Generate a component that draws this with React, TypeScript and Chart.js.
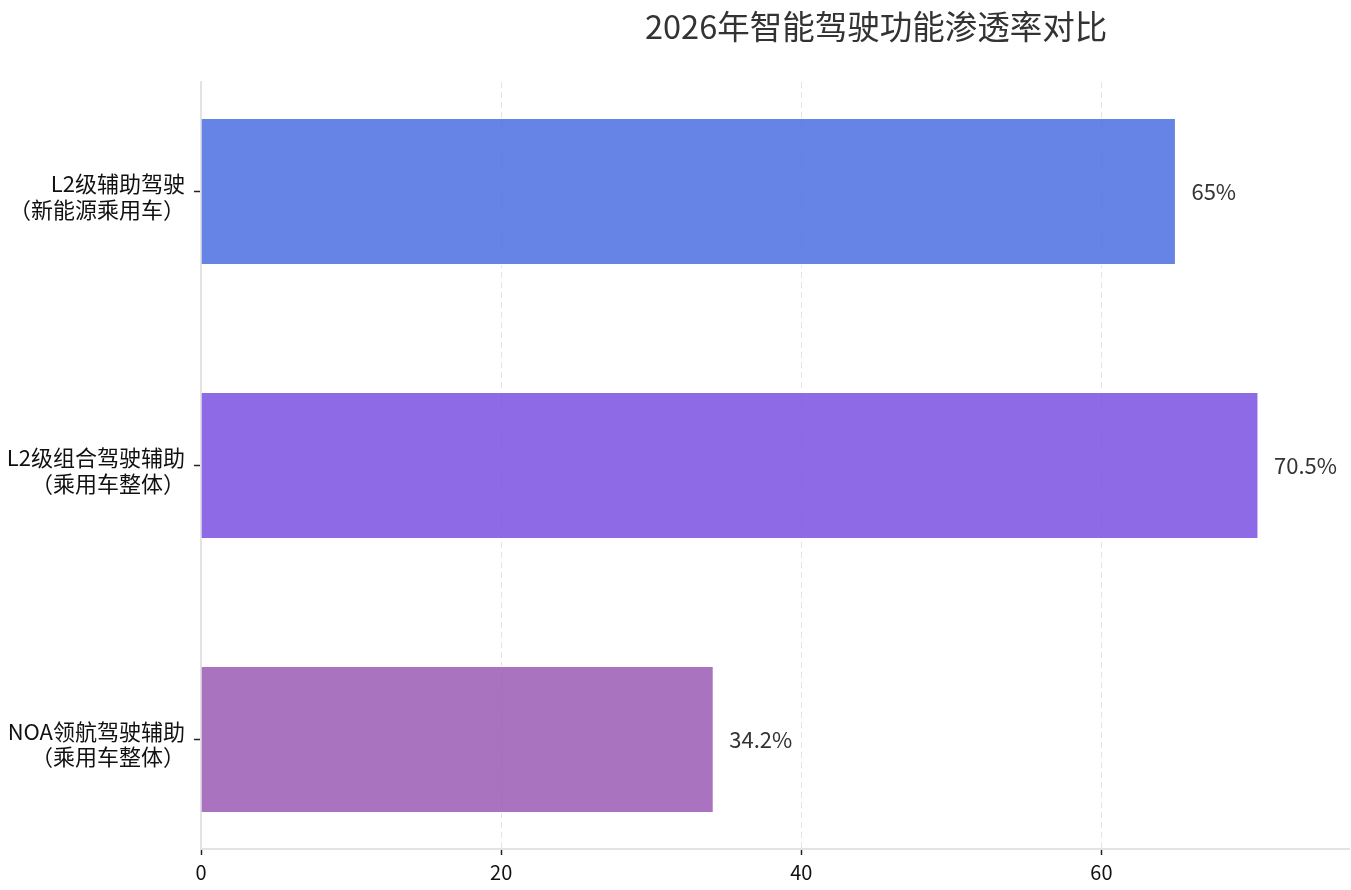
import React, { useEffect, useRef } from "react";
import { Chart, registerables } from "chart.js";

Chart.register(...registerables);

const TITLE = "2026年智能驾驶功能渗透率对比";
const categories: string[][] = [
  ["L2级辅助驾驶", "（新能源乘用车）"],
  ["L2级组合驾驶辅助", "（乘用车整体）"],
  ["NOA领航驾驶辅助", "（乘用车整体）"],
];
const rates = [65, 70.5, 34.2];
const barColors = [
  "rgba(75, 110, 226, 0.85)",
  "rgba(123, 80, 226, 0.85)",
  "rgba(155, 90, 181, 0.85)",
];
const xTicks = [0, 20, 40, 60];

const FONT = "'Noto Sans CJK SC', 'Noto Sans', sans-serif";

// value labels to the right of each bar
const valueLabels = {
  id: "valueLabels",
  afterDatasetsDraw(chart: any) {
    const ctx = chart.ctx;
    const xScale = chart.scales.x;
    const gap = xScale.getPixelForValue(1) - xScale.getPixelForValue(0);
    const meta = chart.getDatasetMeta(0);
    ctx.save();
    ctx.font = `22px ${FONT}`;
    ctx.fillStyle = "#333333";
    ctx.textAlign = "left";
    ctx.textBaseline = "middle";
    meta.data.forEach((bar: any, i: number) => {
      ctx.fillText(`${rates[i]}%`, bar.x + gap, bar.y);
    });
    ctx.restore();
  },
};

// title sits off-centre in the reference
const titlePlugin = {
  id: "offsetTitle",
  afterDraw(chart: any) {
    const ctx = chart.ctx;
    ctx.save();
    ctx.font = `32.5px ${FONT}`;
    ctx.fillStyle = "#333333";
    ctx.textAlign = "center";
    ctx.textBaseline = "middle";
    ctx.fillText(TITLE, chart.width * 0.6485, 27);
    ctx.restore();
  },
};

const RateChart = () => {
  const chartRef = useRef<HTMLCanvasElement | null>(null);

  useEffect(() => {
    const ctx = chartRef.current?.getContext("2d");
    if (!ctx) return;

    const chartInstance = new Chart(ctx, {
      type: "bar",
      data: {
        datasets: [
          {
            label: "渗透率",
            data: rates.map((v, i) => ({ x: v, y: i })),
            backgroundColor: barColors,
            borderColor: "rgba(255, 255, 255, 0.8)",
            borderWidth: 1.5,
            barPercentage: 0.54,
            categoryPercentage: 1,
          },
        ],
      },
      options: {
        indexAxis: "y",
        animation: false,
        responsive: true,
        maintainAspectRatio: false,
        layout: { padding: { top: 82, right: 2, left: 0, bottom: 0 } },
        plugins: {
          legend: { display: false },
          title: { display: false },
          tooltip: { enabled: false },
        },
        scales: {
          x: {
            type: "linear",
            min: 0,
            max: 76.5,
            bounds: "data",
            offset: false,
            afterBuildTicks: (scale: any) => {
              scale.ticks = xTicks.map((v) => ({ value: v }));
            },
            afterFit: (scale: any) => {
              scale.height = 41;
            },
            ticks: {
              color: "#111111",
              font: { family: FONT, size: 20 },
              padding: 5,
            },
            grid: {
              offset: false,
              color: "rgba(205, 205, 205, 0.55)",
              lineWidth: 1,
              tickColor: "#222222",
              tickLength: 6,
              tickWidth: 1.5,
            },
            border: {
              color: "#e3e3e3",
              width: 2,
              dash: [6, 4],
            },
          },
          y: {
            type: "linear",
            min: -0.4,
            max: 2.4,
            bounds: "data",
            offset: false,
            reverse: true,
            afterBuildTicks: (scale: any) => {
              scale.ticks = categories.map((_, i) => ({ value: i }));
            },
            afterFit: (scale: any) => {
              scale.width = 201;
            },
            ticks: {
              color: "#111111",
              font: { family: FONT, size: 22, lineHeight: 1.15 },
              padding: 9,
              labelOffset: 5,
              callback: (_value: any, index: number) => categories[index],
            },
            grid: {
              offset: false,
              drawOnChartArea: false,
              tickColor: "#222222",
              tickLength: 7,
              tickWidth: 1.5,
            },
            border: {
              color: "#e3e3e3",
              width: 2,
            },
          },
        },
      },
      plugins: [valueLabels, titlePlugin],
    } as any);

    return () => {
      chartInstance.destroy();
    };
  }, []);

  return (
    <div
      style={{
        position: "fixed",
        left: 0,
        top: 0,
        width: 1351,
        height: 890,
        background: "#ffffff",
      }}
    >
      <canvas ref={chartRef} />
    </div>
  );
};

export default function App() {
  return <RateChart />;
}
